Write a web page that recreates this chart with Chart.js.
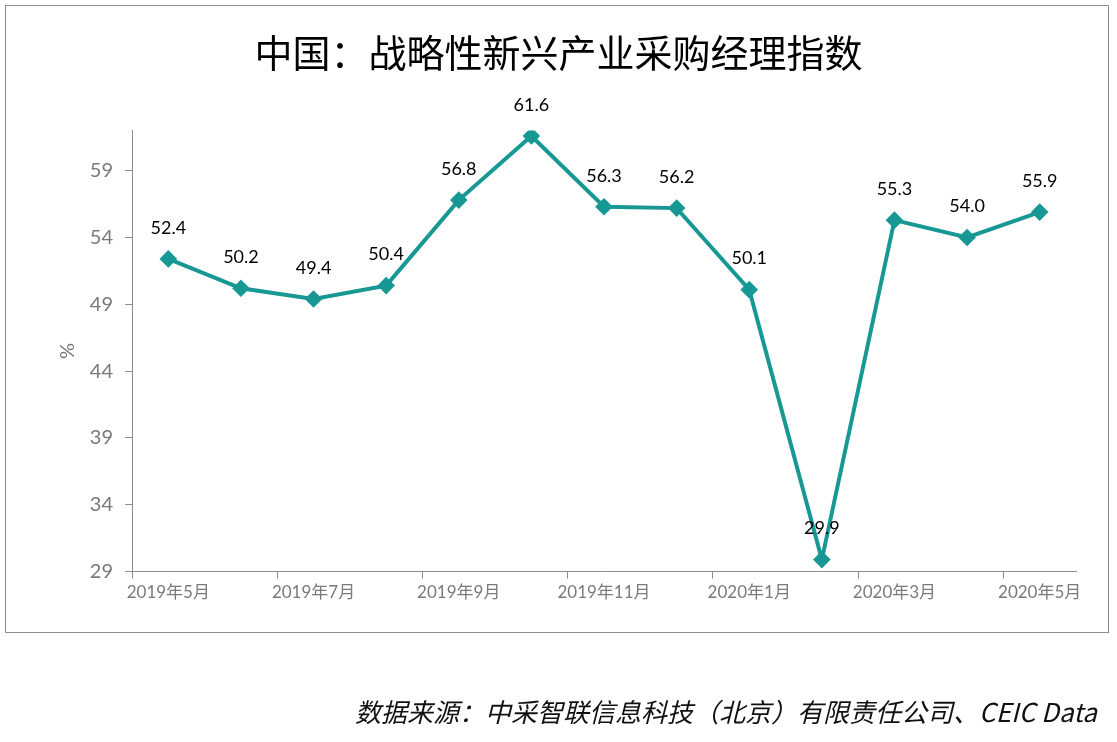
<!DOCTYPE html>
<html>
<head>
<meta charset="utf-8">
<script src="https://cdn.jsdelivr.net/npm/chart.js@4.4.1/dist/chart.umd.min.js"></script>
<style>
  html, body { margin: 0; padding: 0; background: #fff; }
  #wrap { position: relative; width: 1117px; height: 742px; }
  #frame { position: absolute; left: 5px; top: 5px; width: 1104px; height: 628px; border: 1px solid #8c8c8c; box-sizing: border-box; }
  #source {
    position: absolute; right: 20px; top: 692px;
    font: italic 26px "Noto Sans CJK SC", "Lato", sans-serif; color: #111; white-space: nowrap;
  }
  canvas { position: absolute; left: 0; top: 0; }
</style>
</head>
<body>
<div id="wrap">
  <div id="frame"></div>
  <canvas id="pmiChart" width="1117" height="742"></canvas>
  <div id="source">数据来源：中采智联信息科技（北京）有限责任公司、CEIC Data</div>
</div>
<script>
const months = ['2019年5月', '2019年6月', '2019年7月', '2019年8月', '2019年9月', '2019年10月', '2019年11月',
                '2019年12月', '2020年1月', '2020年2月', '2020年3月', '2020年4月', '2020年5月'];
const pmiValues = [52.4, 50.2, 49.4, 50.4, 56.8, 61.6, 56.3, 56.2, 50.1, 29.9, 55.3, 54.0, 55.9];
const yTicks = [29, 34, 39, 44, 49, 54, 59];

const lineColor = '#189894';
const axisGrey = '#8c8c8c';
const numFont = '"Lato", "Noto Sans CJK SC", sans-serif';

// value labels above each diamond
const valueLabels = {
    id: 'valueLabels',
    afterDatasetsDraw(chart) {
        const { ctx } = chart;
        const meta = chart.getDatasetMeta(0);
        ctx.save();
        ctx.font = '18px ' + numFont;
        ctx.fillStyle = '#000';
        ctx.textAlign = 'center';
        ctx.textBaseline = 'middle';
        meta.data.forEach((pt, i) => {
            ctx.fillText(pmiValues[i].toFixed(1), pt.x, pt.y - 31);
        });
        ctx.restore();
    }
};

new Chart(document.getElementById('pmiChart').getContext('2d'), {
    type: 'line',
    data: {
        labels: months,
        datasets: [{
            data: pmiValues,
            borderColor: lineColor,
            backgroundColor: lineColor,
            borderWidth: 4,
            pointStyle: 'rectRot',
            pointRadius: 6,
            pointHoverRadius: 6,
            tension: 0
        }]
    },
    options: {
        responsive: false,
        animation: false,
        layout: { padding: { left: 41, right: 41, top: 0, bottom: 135 } },
        plugins: {
            legend: { display: false },
            tooltip: { enabled: false },
            title: {
                display: true,
                text: '中国：战略性新兴产业采购经理指数',
                color: '#000',
                font: { family: '"Noto Sans CJK SC", sans-serif', size: 38, weight: 'normal' },
                padding: { top: 30, bottom: 55 }
            }
        },
        scales: {
            x: {
                offset: true,
                border: { color: axisGrey, width: 1 },
                grid: {
                    offset: true,
                    drawOnChartArea: false,
                    tickLength: 7,
                    color: c => (c.index % 2 === 0 ? axisGrey : 'rgba(0,0,0,0)')
                },
                ticks: {
                    autoSkip: false,
                    maxRotation: 0,
                    color: '#7a7a7a',
                    font: { family: numFont, size: 17 },
                    padding: 4,
                    callback: (v, i) => (i % 2 === 0 ? months[i] : '')
                }
            },
            y: {
                min: 29,
                max: 62,
                afterFit: s => { s.width = 91; },
                afterBuildTicks: s => { s.ticks = yTicks.map(v => ({ value: v })); },
                border: { color: axisGrey, width: 1 },
                grid: { drawOnChartArea: false, tickLength: 7, color: axisGrey },
                ticks: {
                    color: '#7a7a7a',
                    font: { family: numFont, size: 20 },
                    padding: 12
                },
                title: {
                    display: true,
                    text: '%',
                    color: '#7a7a7a',
                    font: { family: numFont, size: 20 },
                    padding: { top: 15, bottom: 0 }
                }
            }
        }
    },
    plugins: [valueLabels]
});
</script>
</body>
</html>
